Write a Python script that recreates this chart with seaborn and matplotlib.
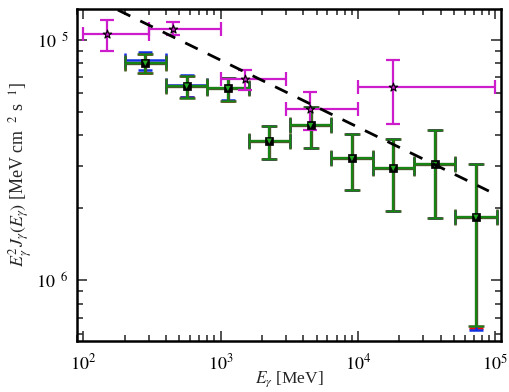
import numpy as np
import pandas as pd
import matplotlib
matplotlib.use("Agg")
import matplotlib.pyplot as plt
import seaborn as sns
from matplotlib.ticker import FixedLocator, LogLocator, NullFormatter

# data
# LAT-like binned points (green / olive / blue / red overlapping analyses)
bin_lo = [200, 400, 800, 1600, 3200, 6400, 12800, 25600, 51200]
bin_hi = [400, 800, 1600, 3200, 6400, 12800, 25600, 51200, 102400]
e_mid = [283, 566, 1131, 2263, 4525, 9051, 18102, 36204, 72408]
flux_green = [7.98e-6, 6.41e-6, 6.27e-6, 3.79e-6, 4.40e-6, 3.21e-6, 2.92e-6, 3.03e-6, 1.83e-6]
up_green = [8.75e-6, 7.05e-6, 6.94e-6, 4.38e-6, 5.24e-6, 4.06e-6, 3.87e-6, 4.21e-6, 3.03e-6]
lo_green = [7.25e-6, 5.72e-6, 5.57e-6, 3.19e-6, 3.56e-6, 2.38e-6, 1.95e-6, 1.82e-6, 6.45e-7]
flux_blue = [8.20e-6, 6.48e-6, 6.30e-6, 3.79e-6, 4.40e-6, 3.21e-6, 2.92e-6, 3.05e-6, 1.83e-6]
up_blue = [8.90e-6, 7.12e-6, 6.96e-6, 4.38e-6, 5.24e-6, 4.06e-6, 3.87e-6, 4.21e-6, 3.03e-6]
lo_blue = [7.45e-6, 5.80e-6, 5.60e-6, 3.19e-6, 3.56e-6, 2.38e-6, 1.95e-6, 1.82e-6, 6.25e-7]
lo_red = [7.30e-6, 5.75e-6, 5.57e-6, 3.19e-6, 3.56e-6, 2.38e-6, 1.95e-6, 1.82e-6, 6.35e-7]

# magenta star points
e_star = [150, 450, 1500, 4500, 18000]
star_lo = [100, 300, 1000, 3000, 10000]
star_hi = [300, 1000, 3000, 10000, 100000]
flux_star = [1.054e-5, 1.11e-5, 6.86e-6, 5.13e-6, 6.37e-6]
up_star = [1.21e-5, 1.18e-5, 7.48e-6, 6.07e-6, 8.26e-6]
lo_star = [8.95e-6, 1.05e-5, 6.16e-6, 4.21e-6, 4.46e-6]

# dashed power-law line end points
line_e = [100, 9.0e4]
line_flux = [1.56e-5, 2.35e-6]

df = pd.DataFrame({"E": e_mid, "flux": flux_green, "lo": bin_lo, "hi": bin_hi,
                   "up": up_green, "dn": lo_green})
df_star = pd.DataFrame({"E": e_star, "flux": flux_star, "lo": star_lo, "hi": star_hi,
                        "up": up_star, "dn": lo_star})

sns.set_style("ticks")
plt.rcParams["font.family"] = ["Liberation Serif", "DejaVu Serif"]
plt.rcParams["mathtext.fontset"] = "stix"

fig = plt.figure(figsize=(5.1, 3.92), dpi=100)
ax = fig.add_axes([0.151, 0.130, 0.831, 0.847])


def errs(center, lo, hi):
    c = np.asarray(center)
    return [c - np.asarray(lo), np.asarray(hi) - c]


# underlying analyses (red, blue, olive) then green on top
ax.errorbar(e_mid, flux_green, xerr=errs(e_mid, bin_lo, bin_hi),
            yerr=errs(flux_green, lo_red, up_green), fmt="none",
            ecolor="red", elinewidth=1.8, capsize=5, capthick=1.8, zorder=2)
ax.errorbar(e_mid, flux_blue, xerr=errs(e_mid, bin_lo, bin_hi),
            yerr=errs(flux_blue, lo_blue, up_blue), fmt="none",
            ecolor="#1030e0", elinewidth=1.8, capsize=5, capthick=1.8, zorder=3)
ax.errorbar(e_mid, flux_green, xerr=errs(e_mid, bin_lo, bin_hi),
            yerr=errs(flux_green, lo_green, up_green), fmt="none",
            ecolor="#4a5a2a", elinewidth=2.4, capsize=5.5, capthick=1.8, zorder=4)
ax.errorbar(e_mid, flux_green, xerr=errs(e_mid, bin_lo, bin_hi),
            yerr=errs(flux_green, lo_green, up_green), fmt="none",
            ecolor="#118a11", elinewidth=1.3, capsize=5, capthick=1, zorder=5)

# magenta points
ax.errorbar(e_star, flux_star, xerr=errs(e_star, star_lo, star_hi),
            yerr=errs(flux_star, lo_star, up_star), fmt="none",
            ecolor="#cc1ccc", elinewidth=1.6, capsize=5, capthick=1.6, zorder=6)

sns.scatterplot(data=df, x="E", y="flux", marker="s", s=36, color="black",
                edgecolor="black", linewidth=0.5, ax=ax, zorder=7)
sns.scatterplot(data=df, x="E", y="flux", marker="v", s=14, color="#22aa22",
                edgecolor="none", ax=ax, zorder=8)
sns.scatterplot(data=df_star, x="E", y="flux", marker="*", s=40, color="#cc1ccc",
                edgecolor="black", linewidth=0.8, ax=ax, zorder=9)

sns.lineplot(x=line_e, y=line_flux, color="black", linestyle=(0, (5, 4)),
             linewidth=2, ax=ax, zorder=10)

ax.set_xscale("log")
ax.set_yscale("log")
ax.set_xlim(90, 1.1e5)
ax.set_ylim(5.6e-7, 1.34e-5)

ax.xaxis.set_major_locator(FixedLocator([1e2, 1e3, 1e4, 1e5]))
ax.set_xticklabels([r"$10^{2}$", r"$10^{3}$", r"$10^{4}$", r"$10^{5}$"])
ax.xaxis.set_minor_locator(LogLocator(base=10, subs=np.arange(2, 10), numticks=20))
ax.xaxis.set_minor_formatter(NullFormatter())
ax.yaxis.set_major_locator(FixedLocator([1e-6, 1e-5]))
ax.set_yticklabels([r"$10^{\ \ 6}$", r"$10^{\ \ 5}$"])
ax.yaxis.set_minor_locator(LogLocator(base=10, subs=np.arange(2, 10), numticks=20))
ax.yaxis.set_minor_formatter(NullFormatter())

ax.tick_params(which="both", direction="in", top=True, right=True, width=1.2,
               labelsize=13, colors="#333333", labelcolor="black")
ax.tick_params(which="major", length=7)
ax.tick_params(axis="x", which="major", pad=9)
ax.tick_params(axis="y", which="major", pad=6)
ax.tick_params(which="minor", length=4)
for s in ax.spines.values():
    s.set_linewidth(1.8)
    s.set_color("black")

ax.set_xlabel(r"$E_\gamma$ [MeV]", fontsize=12.5)
ax.xaxis.set_label_coords(0.5, -0.085)
ax.set_ylabel(r"$E_\gamma^2 J_\gamma(E_\gamma)$ [MeV cm $^{\ 2}$ s $^{\ 1}$]",
              fontsize=13, labelpad=2)

fig.savefig("out.png", dpi=100)
